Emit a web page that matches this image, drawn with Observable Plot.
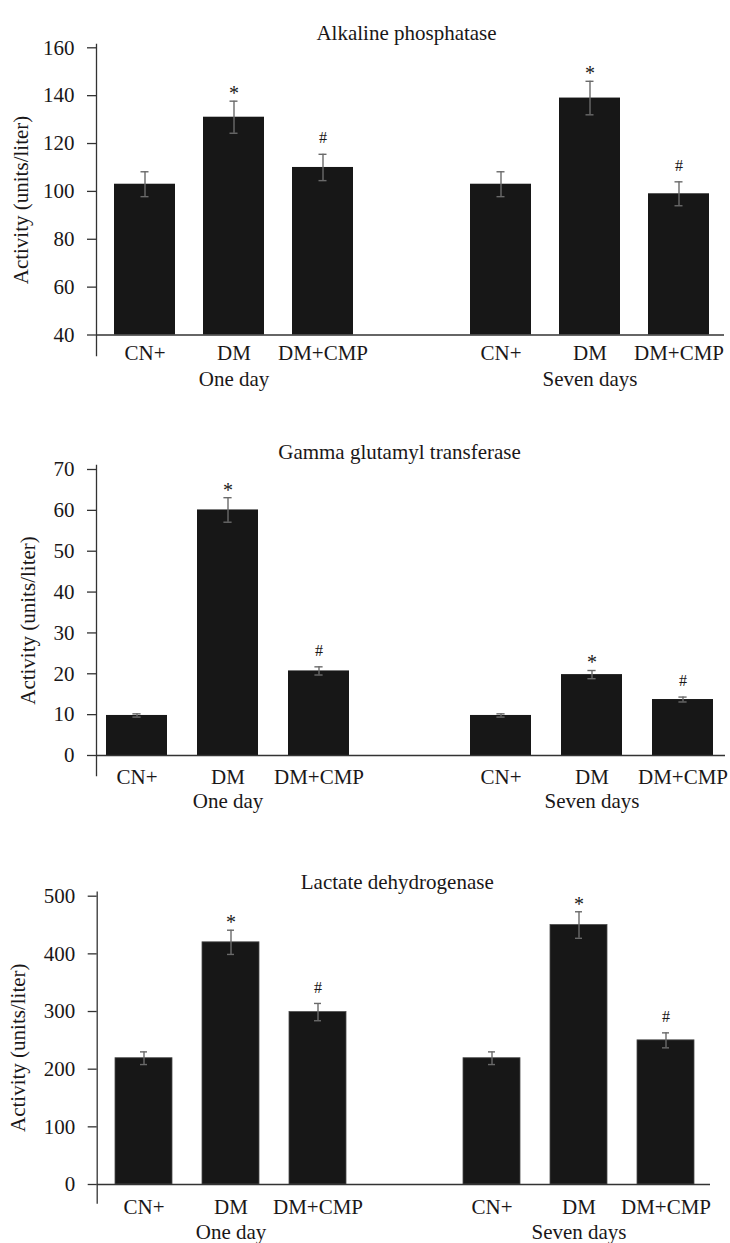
<!DOCTYPE html>
<html>
<head>
<meta charset="utf-8">
<script src="https://cdn.jsdelivr.net/npm/d3@7"></script>
<script src="https://cdn.jsdelivr.net/npm/@observablehq/plot@0.6"></script>
<style>
  html, body { margin: 0; padding: 0; background: #fff; }
  #chart { width: 730px; }
  #chart svg { display: block; }
</style>
</head>
<body>
<div id="chart"></div>
<script>
// ---- Data ----
const groups = ["One day", "Seven days"];
const treatments = ["CN+", "DM", "DM+CMP"];
const significance = ["", "*", "#"];
const yLabel = "Activity (units/liter)";

const alpTitle = "Alkaline phosphatase";
const alpOneDay = [103, 131, 110];
const alpOneDayErr = [5.2, 6.7, 5.5];
const alpSevenDays = [103, 139, 99];
const alpSevenDaysErr = [5.2, 7.0, 5.0];
const alpTicks = [40, 60, 80, 100, 120, 140, 160];

const ggtTitle = "Gamma glutamyl transferase";
const ggtOneDay = [9.8, 60.1, 20.7];
const ggtOneDayErr = [0.4, 3.0, 1.0];
const ggtSevenDays = [9.8, 19.8, 13.7];
const ggtSevenDaysErr = [0.4, 1.0, 0.6];
const ggtTicks = [0, 10, 20, 30, 40, 50, 60, 70];

const ldhTitle = "Lactate dehydrogenase";
const ldhOneDay = [219, 420, 299];
const ldhOneDayErr = [11, 21, 15];
const ldhSevenDays = [219, 450, 250];
const ldhSevenDaysErr = [11, 23, 13];
const ldhTicks = [0, 100, 200, 300, 400, 500];

// ---- Helpers ----
const key = (g, t) => g + "|" + t;
const slotDomain = [
  ...treatments.map(t => key(groups[0], t)),
  "gap",
  ...treatments.map(t => key(groups[1], t))
];

function rowsFor(oneDay, oneDayErr, sevenDays, sevenDaysErr) {
  const rows = [];
  treatments.forEach((t, i) => rows.push({key: key(groups[0], t), group: groups[0], treatment: t, mean: oneDay[i], sd: oneDayErr[i], sig: significance[i]}));
  treatments.forEach((t, i) => rows.push({key: key(groups[1], t), group: groups[1], treatment: t, mean: sevenDays[i], sd: sevenDaysErr[i], sig: significance[i]}));
  return rows;
}

const INK = "#1a1718";
const BAR = "#171717";
const ERR = "#6a6a6a";
const AXIS = "#333";

function panel(cfg) {
  const rows = rowsFor(...cfg.data);
  const ymin = cfg.ticks[0];
  return Plot.plot({
    width: 730,
    height: cfg.height,
    marginLeft: cfg.marginLeft,
    marginRight: cfg.marginRight,
    marginTop: cfg.marginTop,
    marginBottom: cfg.marginBottom,
    style: {fontFamily: "'Liberation Serif', 'Times New Roman', serif", fontSize: "21px", color: INK, background: "#fff"},
    x: {domain: slotDomain, range: cfg.xRange, paddingInner: cfg.pi, paddingOuter: cfg.po, axis: null},
    y: {domain: [ymin, cfg.ticks[cfg.ticks.length - 1]], range: cfg.yRange, axis: null},
    marks: [
      Plot.barY(rows, {x: "key", y1: ymin, y2: "mean", fill: BAR, stroke: cfg.barStroke || "none", strokeWidth: 0.8}),
      Plot.ruleX(rows, {x: "key", y1: d => d.mean - d.sd, y2: d => d.mean + d.sd, stroke: ERR, strokeWidth: 1.4}),
      Plot.tickY(rows, {x: "key", y: d => d.mean + d.sd, stroke: ERR, strokeWidth: 1.4, inset: cfg.capInset}),
      Plot.tickY(rows, {x: "key", y: d => d.mean - d.sd, stroke: ERR, strokeWidth: 1.4, inset: cfg.capInset}),
      Plot.text(rows.filter(d => d.sig === "*"), {x: "key", y: d => d.mean + d.sd, text: "sig", dy: -7.5, fontSize: 20, fill: INK}),
      Plot.text(rows.filter(d => d.sig === "#"), {x: "key", y: d => d.mean + d.sd, text: "sig", dy: -16, fontSize: 16, fill: INK}),
      Plot.ruleY([ymin], {stroke: AXIS, strokeWidth: 1.3}),
      Plot.frame({anchor: "left", stroke: AXIS, strokeWidth: 1.3}),
      Plot.axisY({ticks: cfg.ticks, tickSize: 9, tickPadding: 13, stroke: AXIS, strokeWidth: 1.3,
        label: yLabel, labelAnchor: "center", labelOffset: cfg.labelOffset, labelArrow: "none"}),
      Plot.text(rows, {x: "key", y: ymin, text: "treatment", dy: cfg.catDy, fill: INK}),
      Plot.text(groups, {x: g => key(g, "DM"), y: ymin, text: d => d, dy: cfg.groupDy, fill: INK}),
      Plot.text([cfg.title], {frameAnchor: "top", text: d => d, dy: cfg.titleDy, dx: cfg.titleDx, fill: INK})
    ]
  });
}

const chart = document.getElementById("chart");

chart.append(panel({
  title: alpTitle, data: [alpOneDay, alpOneDayErr, alpSevenDays, alpSevenDaysErr], ticks: alpTicks,
  height: 410, marginLeft: 96, marginRight: 6, marginTop: 44, marginBottom: 55,
  xRange: [96, 727], pi: 0.315, po: 0.202, yRange: [334.5, 47.3], capInset: 26.5,
  labelOffset: 83, catDy: 18, groupDy: 44.5, titleDy: -19.2, titleDx: -4
}));

chart.append(panel({
  title: ggtTitle, data: [ggtOneDay, ggtOneDayErr, ggtSevenDays, ggtSevenDaysErr], ticks: ggtTicks,
  height: 415, marginLeft: 96, marginRight: 5, marginTop: 55, marginBottom: 50,
  xRange: [96, 722.7], pi: 0.333, po: 0.099, yRange: [345, 59], capInset: 26.4,
  labelOffset: 76, catDy: 21.3, groupDy: 45.6, titleDy: -21, titleDx: -11.5
}));

chart.append(panel({
  title: ldhTitle, data: [ldhOneDay, ldhOneDayErr, ldhSevenDays, ldhSevenDaysErr], ticks: ldhTicks,
  height: 418, marginLeft: 96.7, marginRight: 20, marginTop: 66.7, marginBottom: 40.3,
  xRange: [96.7, 712], pi: 0.341, po: 0.17, yRange: [359, 70.7], capInset: 25,
  labelOffset: 87, catDy: 22.3, groupDy: 47.7, titleDy: -18.4, titleDx: -6.6, barStroke: "#4a4a4a"
}));
</script>
</body>
</html>
